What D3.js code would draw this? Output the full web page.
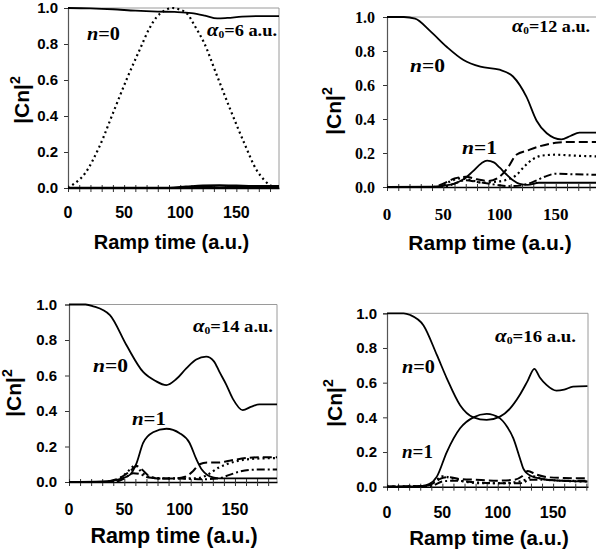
<!DOCTYPE html>
<html><head><meta charset="utf-8">
<script src="https://cdn.jsdelivr.net/npm/d3@7"></script>
<style>body{margin:0;background:#fff}svg{display:block}</style>
</head><body>
<svg id="c" width="596" height="556"></svg>
<script>
// ---------------- DATA ----------------
const xTickLabels = [0, 50, 100, 150];
const yTickValues = [0, 0.2, 0.4, 0.6, 0.8, 1.0];
const xMinorTicks = [0,10,20,30,40,50,60,70,80,90,100,110,120,130,140,150,160,170,180];
const alphaValues = [6, 12, 14, 16];

// Panel 1, alpha0 = 6
const p1N0T = [0, 20, 40, 60, 80, 95, 110, 122, 133, 142, 155, 170, 188];
const p1N0V = [1.0, 0.998, 0.993, 0.985, 0.98, 0.978, 0.972, 0.958, 0.942, 0.945, 0.952, 0.955, 0.955];
const p1DotT = [0, 4, 15, 28, 40, 52, 64, 72, 79, 86, 93, 100, 106, 113, 121, 133, 145, 157, 168, 174, 179, 184, 188];
const p1DotV = [0.0, 0.017, 0.08, 0.23, 0.415, 0.6, 0.77, 0.88, 0.95, 0.985, 1.0, 0.99, 0.97, 0.9, 0.81, 0.62, 0.43, 0.25, 0.1, 0.05, 0.02, 0.005, 0.0];
const p1N1T = [0, 90, 105, 120, 135, 150, 165, 188];
const p1N1V = [0, 0, 0.006, 0.012, 0.014, 0.012, 0.009, 0.01];
const p1BaseT = [0, 188];
const p1BaseV = [0, 0];

// Panel 2, alpha0 = 12
const p2N0T = [0, 15, 25, 38, 53, 68, 83, 100, 112, 124, 133, 142, 155, 163, 171, 188];
const p2N0V = [1.0, 1.0, 0.99, 0.92, 0.825, 0.747, 0.708, 0.69, 0.65, 0.53, 0.39, 0.316, 0.28, 0.3, 0.32, 0.32];
const p2N1T = [0, 40, 50, 60, 68, 76, 84, 89, 95, 100, 106, 112, 118, 125, 135, 188];
const p2N1V = [0, 0.002, 0.008, 0.02, 0.045, 0.09, 0.14, 0.155, 0.145, 0.115, 0.075, 0.04, 0.018, 0.012, 0.025, 0.025];
const p2DashT = [0, 40, 50, 60, 70, 80, 90, 100, 108, 115, 125, 136, 150, 165, 188];
const p2DashV = [0, 0, 0.02, 0.05, 0.06, 0.045, 0.035, 0.06, 0.12, 0.19, 0.215, 0.24, 0.26, 0.265, 0.265];
const p2DotT = [0, 45, 55, 65, 75, 85, 95, 105, 115, 122, 130, 138, 150, 165, 188];
const p2DotV = [0, 0, 0.03, 0.05, 0.04, 0.025, 0.03, 0.04, 0.07, 0.12, 0.165, 0.185, 0.19, 0.185, 0.18];
const p2DDT = [0, 50, 60, 70, 80, 90, 100, 110, 120, 130, 140, 150, 165, 188];
const p2DDV = [0, 0, 0.02, 0.04, 0.03, 0.02, 0.01, 0.005, 0.01, 0.03, 0.06, 0.078, 0.075, 0.072];

// Panel 3, alpha0 = 14
const p3N0T = [0, 15, 22, 37, 52, 67, 78, 88, 97, 106, 115, 124, 131, 136, 142, 148, 157, 165, 172, 188];
const p3N0V = [1.0, 1.0, 0.99, 0.94, 0.77, 0.62, 0.57, 0.546, 0.58, 0.64, 0.69, 0.706, 0.68, 0.62, 0.55, 0.47, 0.405, 0.425, 0.437, 0.437];
const p3N1T = [0, 30, 45, 55, 61, 67, 76, 88, 100, 109, 115, 120, 125, 131, 140, 188];
const p3N1V = [0, 0.003, 0.015, 0.04, 0.105, 0.22, 0.28, 0.30, 0.275, 0.22, 0.13, 0.07, 0.04, 0.025, 0.02, 0.02];
const p3DashT = [0, 30, 45, 55, 61, 66, 72, 80, 95, 105, 112, 118, 125, 135, 145, 160, 175, 188];
const p3DashV = [0, 0, 0.02, 0.06, 0.09, 0.07, 0.035, 0.02, 0.02, 0.03, 0.06, 0.1, 0.11, 0.11, 0.12, 0.135, 0.14, 0.14];
const p3DotT = [0, 35, 48, 55, 60, 65, 72, 85, 100, 115, 125, 135, 150, 165, 188];
const p3DotV = [0, 0, 0.03, 0.07, 0.095, 0.06, 0.03, 0.02, 0.02, 0.02, 0.04, 0.08, 0.115, 0.13, 0.135];
const p3DDT = [0, 40, 50, 58, 64, 72, 85, 100, 120, 135, 145, 155, 170, 188];
const p3DDV = [0, 0, 0.02, 0.05, 0.045, 0.025, 0.02, 0.02, 0.015, 0.02, 0.04, 0.06, 0.07, 0.07];

// Panel 4, alpha0 = 16
const p4N0T = [0, 15, 21, 33, 45, 54, 66, 78, 90, 102, 111, 120, 127, 133, 138, 144, 153, 160, 168, 181];
const p4N0V = [1.0, 1.0, 0.99, 0.93, 0.76, 0.625, 0.47, 0.40, 0.385, 0.404, 0.45, 0.53, 0.61, 0.68, 0.63, 0.587, 0.554, 0.56, 0.577, 0.58];
const p4N1T = [0, 30, 38, 45, 54, 66, 78, 90, 102, 108, 114, 120, 123, 126, 130, 140, 155, 181];
const p4N1V = [0, 0.003, 0.015, 0.058, 0.2, 0.337, 0.40, 0.42, 0.394, 0.35, 0.28, 0.164, 0.106, 0.08, 0.062, 0.045, 0.035, 0.03];
const p4DashT = [0, 35, 42, 48, 55, 65, 80, 100, 115, 122, 127, 135, 145, 160, 181];
const p4DashV = [0, 0.005, 0.02, 0.045, 0.055, 0.045, 0.04, 0.035, 0.04, 0.06, 0.09, 0.07, 0.055, 0.05, 0.048];
const p4DotT = [0, 35, 43, 50, 58, 70, 85, 100, 115, 125, 132, 140, 155, 181];
const p4DotV = [0, 0.005, 0.03, 0.06, 0.05, 0.03, 0.02, 0.02, 0.025, 0.04, 0.06, 0.045, 0.035, 0.03];
const p4DDT = [0, 40, 50, 60, 80, 100, 120, 130, 140, 160, 181];
const p4DDV = [0, 0.005, 0.03, 0.035, 0.025, 0.02, 0.02, 0.04, 0.04, 0.035, 0.035];

// ---------------- LAYOUT / STYLE ----------------
const SANS = "'Liberation Sans', Arial, sans-serif";
const SERIF = "'Liberation Serif', 'Times New Roman', serif";
const styles = {
  solid:  {w: 1.8, dash: null},
  thick:  {w: 2.6, dash: null},
  dashed: {w: 2.0, dash: "9,4"},
  dotted: {w: 2.2, dash: "2,3.2"},
  dashdot:{w: 2.0, dash: "8,3,2,3"}
};

const panels = [
  { alpha: alphaValues[0], xmax: 188, px0: 68, px1: 279, py0: 188, py1: 8,
    tickFont: SANS, tickSize: 15, yLabRight: 58, xLabY: 217.5,
    title: {x: 171.5, y: 249, size: 20}, ylab: {x: 29, y: 100, size: 21},
    n0: {x: 87, y: 40, w: 33}, n1: null, al: {x: 207, y: 36, w: 70},
    series: [
      {t: p1BaseT, v: p1BaseV, s: 'solid'},
      {t: p1N1T, v: p1N1V, s: 'thick'},
      {t: p1DotT, v: p1DotV, s: 'dotted'},
      {t: p1N0T, v: p1N0V, s: 'solid'}
    ]},
  { alpha: alphaValues[1], xmax: 188, px0: 387, px1: 598.5, py0: 187, py1: 17,
    tickFont: SERIF, tickSize: 16, yLabRight: 375, xLabY: 220,
    title: {x: 490, y: 250, size: 21}, ylab: {x: 341, y: 111, size: 21},
    n0: {x: 410, y: 72, w: 35}, n1: {x: 462, y: 154, w: 35}, al: {x: 512, y: 32, w: 78},
    series: [
      {t: p2DDT, v: p2DDV, s: 'dashdot'},
      {t: p2DotT, v: p2DotV, s: 'dotted'},
      {t: p2DashT, v: p2DashV, s: 'dashed'},
      {t: p2N1T, v: p2N1V, s: 'solid'},
      {t: p2N0T, v: p2N0V, s: 'solid'}
    ]},
  { alpha: alphaValues[2], xmax: 188, px0: 69, px1: 277, py0: 482, py1: 304.5,
    tickFont: SANS, tickSize: 15, yLabRight: 57, xLabY: 514.5,
    title: {x: 174, y: 543, size: 21.5}, ylab: {x: 21, y: 393, size: 21},
    n0: {x: 93, y: 372, w: 35}, n1: {x: 132, y: 425, w: 34}, al: {x: 193, y: 332, w: 80},
    series: [
      {t: p3DDT, v: p3DDV, s: 'dashdot'},
      {t: p3DotT, v: p3DotV, s: 'dotted'},
      {t: p3DashT, v: p3DashV, s: 'dashed'},
      {t: p3N1T, v: p3N1V, s: 'solid'},
      {t: p3N0T, v: p3N0V, s: 'solid'}
    ]},
  { alpha: alphaValues[3], xmax: 181.5, px0: 387, px1: 588, py0: 486.7, py1: 313.3,
    tickFont: SANS, tickSize: 15, yLabRight: 377, xLabY: 517.5,
    title: {x: 489, y: 545, size: 20.5}, ylab: {x: 342, y: 403, size: 21},
    n0: {x: 402, y: 373, w: 33}, n1: {x: 402, y: 458, w: 31}, al: {x: 495, y: 342, w: 81},
    series: [
      {t: p4DDT, v: p4DDV, s: 'dashdot'},
      {t: p4DotT, v: p4DotV, s: 'dotted'},
      {t: p4DashT, v: p4DashV, s: 'dashed'},
      {t: p4N1T, v: p4N1V, s: 'solid'},
      {t: p4N0T, v: p4N0V, s: 'solid'}
    ]}
];

const svg = d3.select('#c');

panels.forEach((p, i) => {
  const x = d3.scaleLinear().domain([0, p.xmax]).range([p.px0, p.px1]);
  const y = d3.scaleLinear().domain([0, 1]).range([p.py0, p.py1]);
  const g = svg.append('g');
  const clipId = 'clip' + i;
  svg.append('clipPath').attr('id', clipId).append('rect')
    .attr('x', p.px0).attr('y', p.py1 - 3).attr('width', p.px1 - p.px0).attr('height', p.py0 - p.py1 + 4);

  // frame top/right
  g.append('line').attr('x1', p.px0).attr('x2', p.px1).attr('y1', p.py1).attr('y2', p.py1)
    .attr('stroke', '#9a9a9a').attr('stroke-width', 1);
  g.append('line').attr('x1', p.px1).attr('x2', p.px1).attr('y1', p.py1).attr('y2', p.py0)
    .attr('stroke', '#9a9a9a').attr('stroke-width', 1);

  // y axis
  const yAxis = d3.axisLeft(y).tickValues(yTickValues).tickSize(4).tickPadding(6)
    .tickFormat(d3.format('.1f'));
  const ya = g.append('g').attr('transform', `translate(${p.px0},0)`).call(yAxis);
  ya.select('.domain').attr('stroke', '#555').attr('stroke-width', 1.2);
  ya.selectAll('.tick line').attr('stroke', '#333');
  ya.selectAll('.tick text').attr('font-family', p.tickFont).attr('font-weight', 'bold')
    .attr('font-size', p.tickSize).attr('fill', '#000')
    .attr('x', p.yLabRight - p.px0);

  // x axis: minor ticks crossing axis
  const xAxis = d3.axisBottom(x).tickValues(xMinorTicks.filter(d => d <= p.xmax))
    .tickSizeInner(4).tickSizeOuter(0).tickFormat('');
  const xa = g.append('g').attr('transform', `translate(0,${p.py0})`).call(xAxis);
  xa.select('.domain').attr('stroke', '#000').attr('stroke-width', 1.6);
  xa.selectAll('.tick line').attr('y1', -3).attr('stroke', '#333');
  // x labels
  g.selectAll('.xl').data(xTickLabels).enter().append('text')
    .attr('x', d => x(d)).attr('y', p.xLabY).attr('text-anchor', 'middle')
    .attr('font-family', p.tickFont).attr('font-weight', 'bold').attr('font-size', p.tickSize + 1)
    .text(d => d);

  // series
  const line = d3.line().x(d => x(d[0])).y(d => y(d[1])).curve(d3.curveMonotoneX);
  const lg = g.append('g').attr('clip-path', `url(#${clipId})`);
  p.series.forEach(s => {
    const st = styles[s.s];
    lg.append('path').datum(s.t.map((t, k) => [t, s.v[k]]))
      .attr('d', line).attr('fill', 'none').attr('stroke', '#000')
      .attr('stroke-width', st.w).attr('stroke-dasharray', st.dash)
      .attr('stroke-linejoin', 'round');
  });

  // axis title
  g.append('text').attr('x', p.title.x).attr('y', p.title.y).attr('text-anchor', 'middle')
    .attr('font-family', SANS).attr('font-weight', 'bold').attr('font-size', p.title.size)
    .text('Ramp time (a.u.)');
  // y label |Cn|^2
  const yl = g.append('text').attr('transform', `translate(${p.ylab.x},${p.ylab.y}) rotate(-90)`)
    .attr('text-anchor', 'middle').attr('font-family', SANS).attr('font-weight', 'bold')
    .attr('font-size', p.ylab.size);
  yl.append('tspan').text('|Cn|');
  yl.append('tspan').attr('dy', -9).attr('font-size', p.ylab.size * 0.68).text('2');

  // n labels
  [['n0', '0'], ['n1', '1']].forEach(([k, num]) => {
    if (!p[k]) return;
    const t = g.append('text').attr('x', p[k].x).attr('y', p[k].y)
      .attr('font-family', SERIF).attr('font-weight', 'bold').attr('font-size', 19)
      .attr('textLength', p[k].w).attr('lengthAdjust', 'spacingAndGlyphs');
    t.append('tspan').attr('font-style', 'italic').text('n');
    t.append('tspan').text('=' + num);
  });
  // alpha label
  const a = g.append('text').attr('x', p.al.x).attr('y', p.al.y)
    .attr('font-family', SERIF).attr('font-weight', 'bold').attr('font-size', 16)
    .attr('textLength', p.al.w).attr('lengthAdjust', 'spacingAndGlyphs');
  a.append('tspan').attr('font-style', 'italic').attr('font-size', 18).text('α');
  a.append('tspan').attr('font-size', 10).attr('dy', 2).text('0');
  a.append('tspan').attr('dy', -2).text('=' + p.alpha + ' a.u.');
});
</script>
</body></html>
